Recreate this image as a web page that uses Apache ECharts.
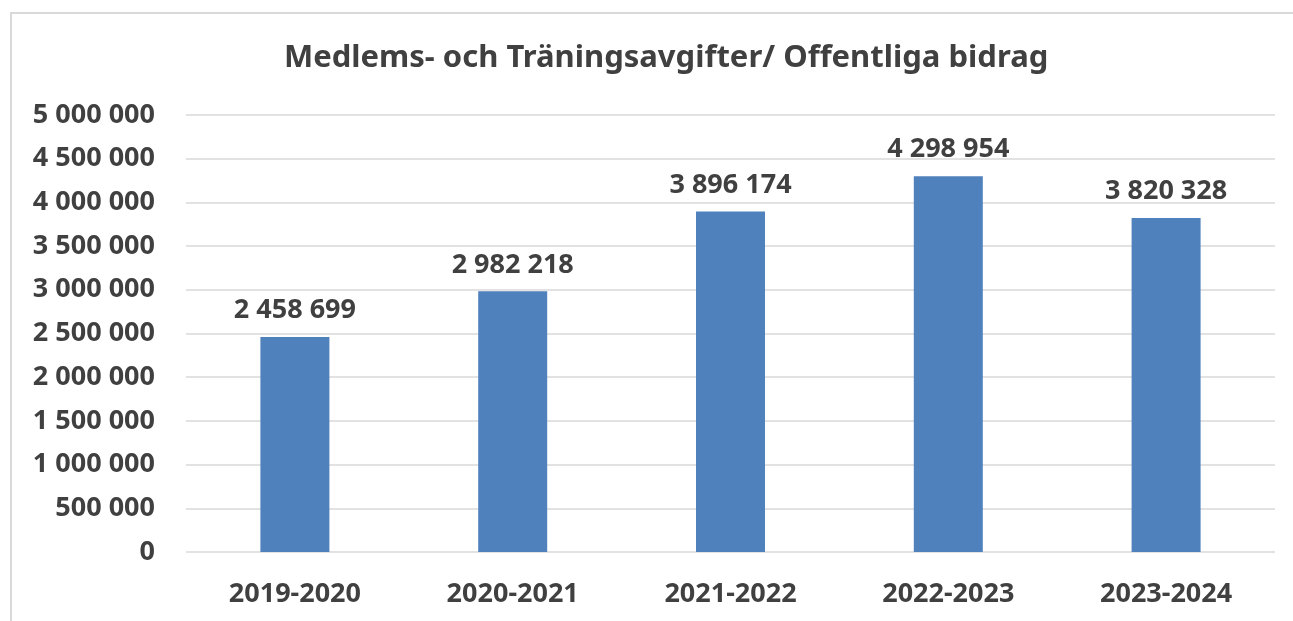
<!DOCTYPE html>
<html lang="sv">
<head>
    <meta charset="UTF-8">
    <title>Medlems- och Träningsavgifter/ Offentliga bidrag</title>
    <script src="https://cdn.jsdelivr.net/npm/echarts@6/dist/echarts.min.js"></script>
    <style>
        html, body {
            margin: 0;
            padding: 0;
            background: #fff;
            overflow: hidden;
        }
        #frame {
            position: absolute;
            left: 10px;
            top: 12px;
            width: 1400px;
            height: 700px;
            border: 2px solid #d9d9d9;
        }
        #chart {
            position: absolute;
            left: 0;
            top: 0;
            width: 1293px;
            height: 621px;
        }
    </style>
</head>
<body>
    <div id="frame"></div>
    <div id="chart"></div>
    <script>
        // säsonger och belopp (kr)
        const seasons = ['2019-2020', '2020-2021', '2021-2022', '2022-2023', '2023-2024'];
        const amounts = [2458699, 2982218, 3896174, 4298954, 3820328];

        const fontFamily = '"Noto Sans", "Open Sans", sans-serif';
        const textColor = '#404040';

        // tusentalsavgränsare med mellanslag
        function fmt(v) {
            return String(v).replace(/\B(?=(\d{3})+(?!\d))/g, ' ');
        }

        const chart = echarts.init(document.getElementById('chart'));

        chart.setOption({
            animation: false,
            title: {
                text: 'Medlems- och Träningsavgifter/ Offentliga bidrag',
                left: 279,
                top: 38,
                textStyle: {
                    fontFamily: fontFamily,
                    fontSize: 31,
                    fontWeight: 'bold',
                    color: textColor
                }
            },
            grid: {
                left: 186,
                right: 18,
                top: 115,
                bottom: 69
            },
            xAxis: {
                type: 'category',
                data: seasons,
                axisLine: { show: false },
                axisTick: { show: false },
                axisLabel: {
                    margin: 29,
                    fontFamily: fontFamily,
                    fontSize: 27,
                    fontWeight: 'bold',
                    color: textColor
                }
            },
            yAxis: {
                type: 'value',
                min: 0,
                max: 5000000,
                interval: 500000,
                axisLine: { show: false },
                axisTick: { show: false },
                splitLine: {
                    lineStyle: { color: '#d9d9d9', width: 1.5 }
                },
                axisLabel: {
                    margin: 31,
                    formatter: fmt,
                    fontFamily: fontFamily,
                    fontSize: 27,
                    fontWeight: 'bold',
                    color: textColor
                }
            },
            series: [
                {
                    type: 'bar',
                    data: amounts,
                    barWidth: 69,
                    itemStyle: { color: '#4f81bd' },
                    label: {
                        show: true,
                        position: 'top',
                        distance: 13,
                        formatter: p => fmt(p.value),
                        fontFamily: fontFamily,
                        fontSize: 27,
                        fontWeight: 'bold',
                        color: textColor
                    }
                }
            ]
        });
    </script>
</body>
</html>
